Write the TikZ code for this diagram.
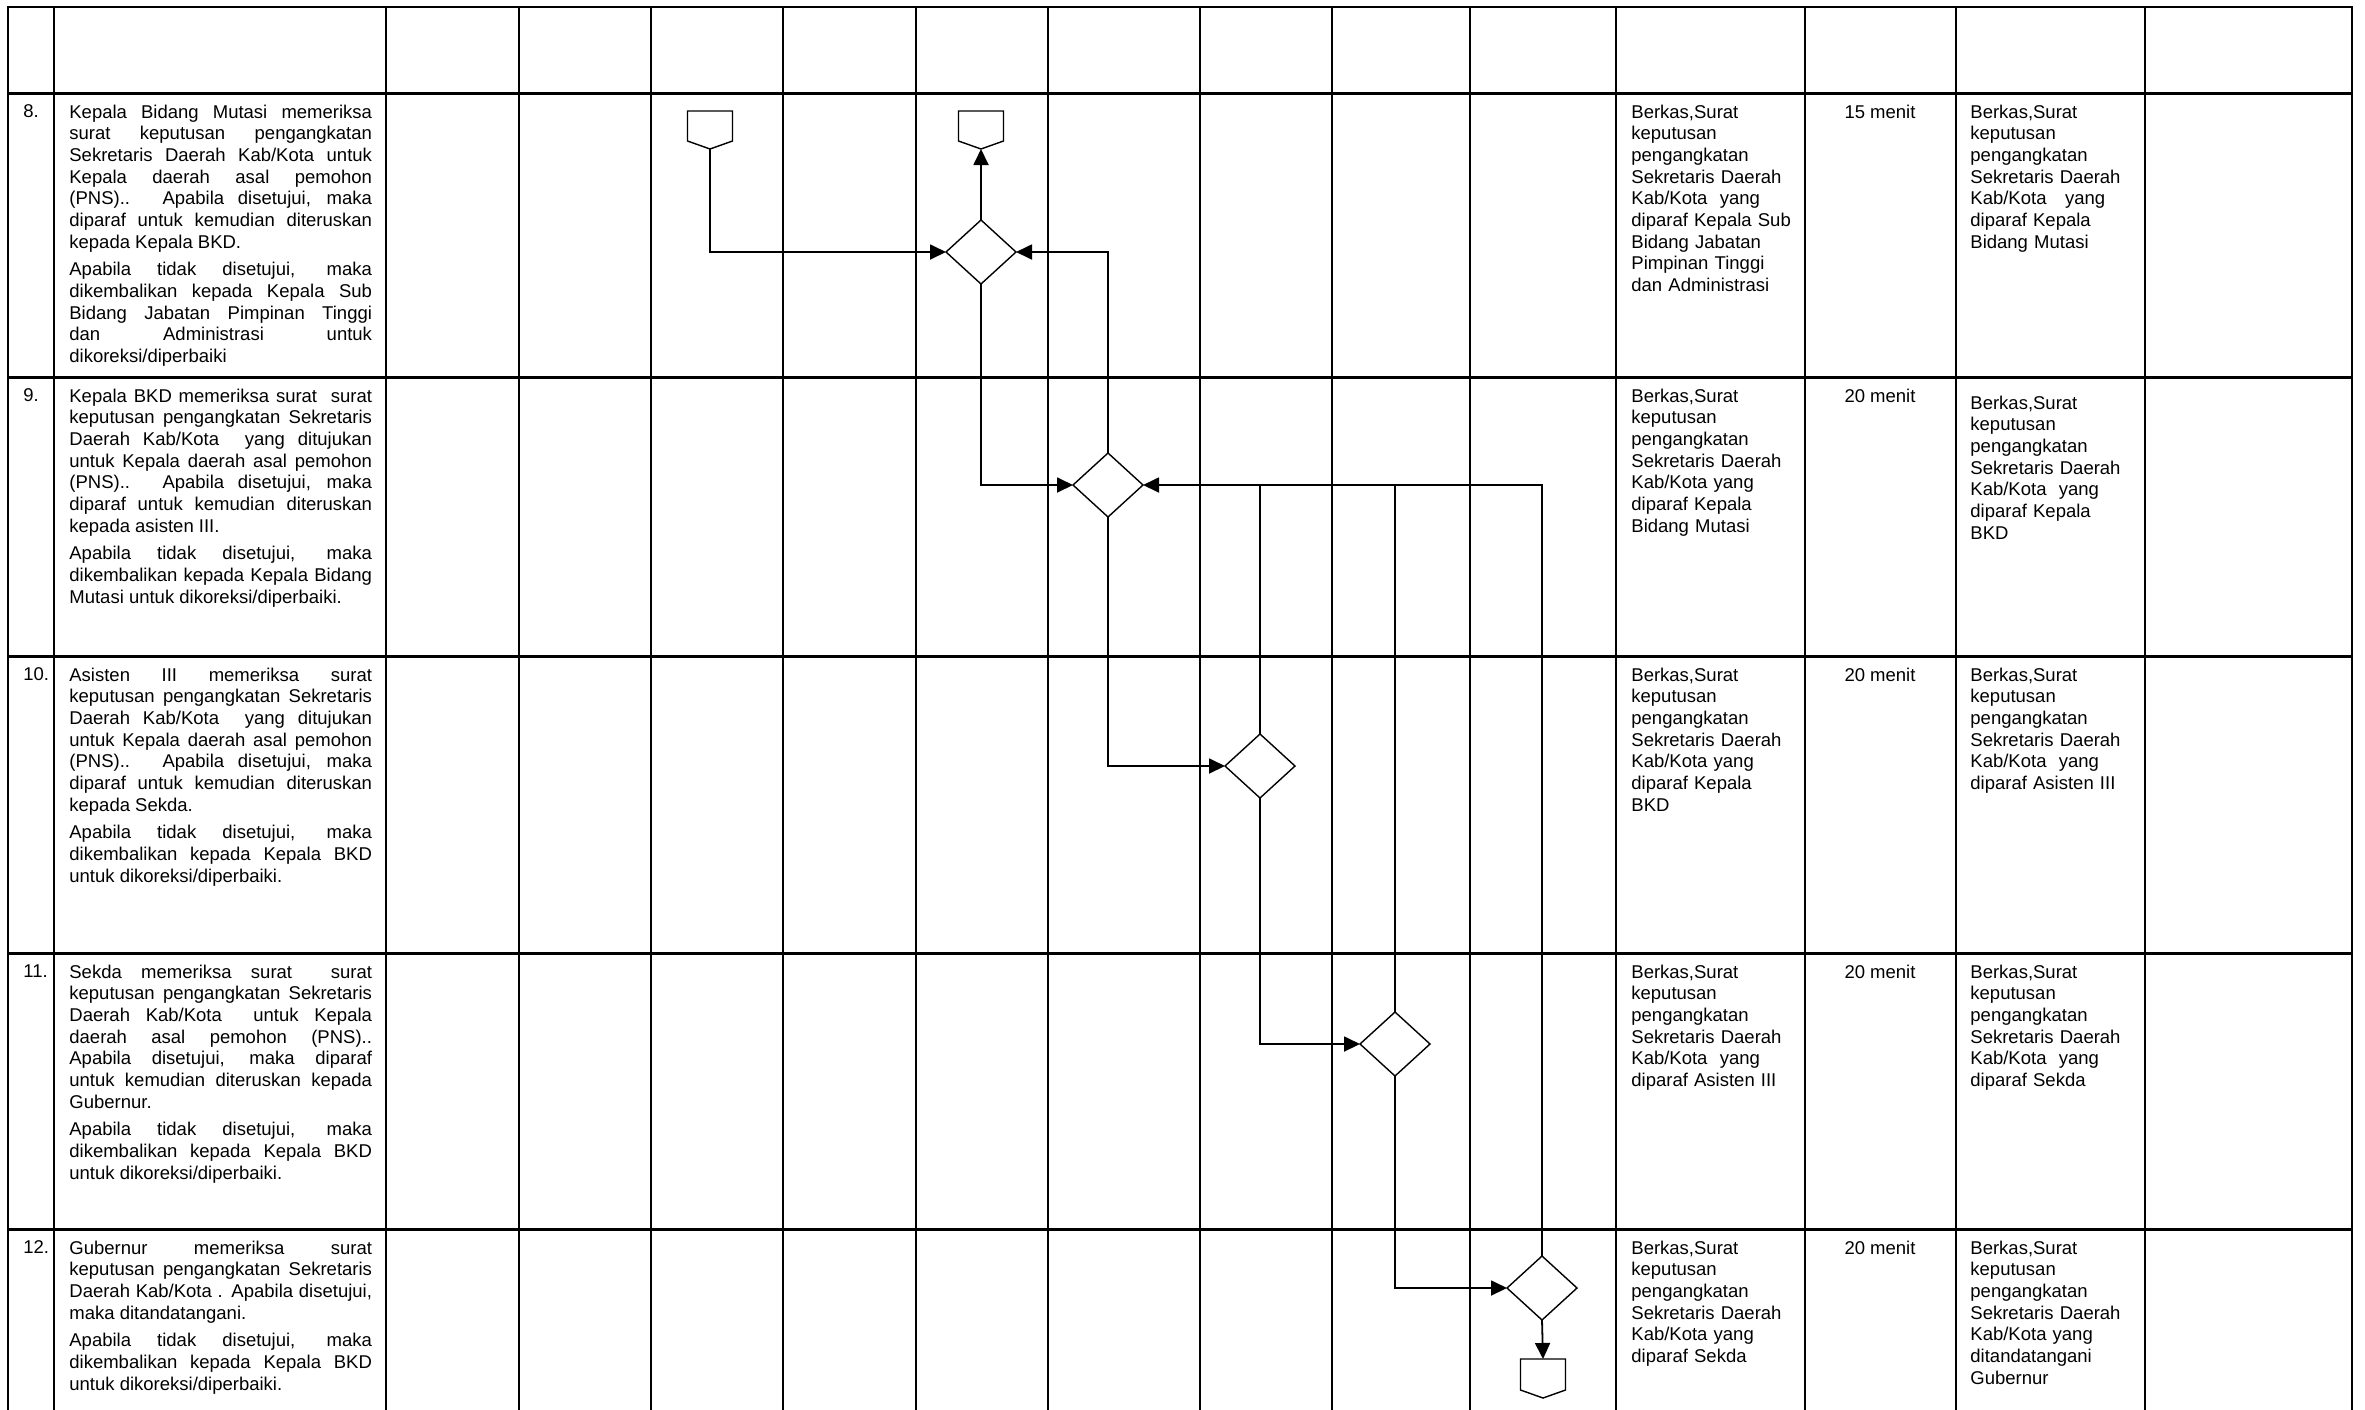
\documentclass[tikz,border=0pt]{standalone}
\usepackage{fontspec}
\setmainfont{Liberation Sans}
\usetikzlibrary{shapes.geometric,arrows.meta}
\tolerance=10000 \hbadness=10000 \hyphenpenalty=10000 \exhyphenpenalty=10000
\newcommand{\fs}{\fontsize{9.25}{10.83}\selectfont\parindent=0pt\relax}
\newcommand{\lb}{\linebreak}
\newcommand{\psep}{\par\vspace{3pt}}
\newcommand{\offpagedraw}[1]{\draw[shapeline,fill=white] (#1.north west) -- (#1.north east) -- ([yshift=4pt]#1.south east) -- (#1.south) -- ([yshift=4pt]#1.south west) -- cycle;}
\begin{document}
\begin{tikzpicture}[x=0.5pt,y=-0.5pt,
  grid/.style={line width=1.15pt,line cap=rect},
  conn/.style={line width=0.9pt},
  ret/.style={line width=0.6pt},
  tip/.style={-{Triangle[length=8pt,width=7.5pt]}},
  shapeline/.style={line width=0.7pt},
  dec/.style={diamond,draw,line width=0.7pt,fill=white,minimum width=35pt,minimum height=32pt,inner sep=0pt,outer sep=0pt},
  offpage/.style={minimum width=22.5pt,minimum height=19pt,inner sep=0pt,outer sep=0pt},
  num/.style={anchor=north west,inner sep=0pt,font=\fs},
  desc/.style={anchor=north west,inner sep=0pt,text width=151.3pt,align=justify,font=\fs},
  cell/.style={anchor=north west,inner sep=0pt,text width=86pt,align=left,font=\fs},
  dur/.style={anchor=north,inner sep=0pt,font=\fs}]
\useasboundingbox (0,0) rectangle (2365,1409);
\fill[white] (0,0) rectangle (2365,1409);
% table grid
\foreach \x in {8,54,386,519,651,783,916,1048,1200,1332,1470,1616,1805,1956,2145,2352}
  \draw[grid] (\x,7) -- (\x,1409);
\foreach \y in {7,93.5,377.5,656.5,953.5,1229.5}
  \draw[grid] (8,\y) -- (2352,\y);

% row 8
\node[num] (n8) at (23,104.5) {8.};
\node[desc] (t8) at (69,104.5) {Kepala Bidang Mutasi memeriksa\lb
surat keputusan pengangkatan\lb
Sekretaris Daerah Kab/Kota untuk\lb
Kepala daerah asal pemohon\lb
(PNS).. Apabila disetujui, maka\lb
diparaf untuk kemudian diteruskan\lb
kepada Kepala BKD.\psep
Apabila tidak disetujui, maka\lb
dikembalikan kepada Kepala Sub\lb
Bidang Jabatan Pimpinan Tinggi\lb
dan Administrasi untuk\lb
dikoreksi/diperbaiki};
\node[cell] (a8) at (1631,104.5) {Berkas,Surat\\keputusan\\pengangkatan\\Sekretaris Daerah\\Kab/Kota\ \ yang\\diparaf Kepala Sub\\Bidang Jabatan\\Pimpinan Tinggi\\dan Administrasi};
\node[dur] (b8) at (1880,104.5) {15 menit};
\node[cell] (c8) at (1970,104.5) {Berkas,Surat\\keputusan\\pengangkatan\\Sekretaris Daerah\\Kab/Kota\ \ \ yang\\diparaf Kepala\\Bidang Mutasi};

% row 9
\node[num] (n9) at (23,388.5) {9.};
\node[desc] (t9) at (69,388.5) {Kepala BKD memeriksa surat\ \ surat\lb
keputusan pengangkatan Sekretaris\lb
Daerah Kab/Kota\ \ yang ditujukan\lb
untuk Kepala daerah asal pemohon\lb
(PNS).. Apabila disetujui, maka\lb
diparaf untuk kemudian diteruskan\lb
kepada asisten III.\psep
Apabila tidak disetujui, maka\lb
dikembalikan kepada Kepala Bidang\lb
Mutasi untuk dikoreksi/diperbaiki.};
\node[cell] (a9) at (1631,388.5) {Berkas,Surat\\keputusan\\pengangkatan\\Sekretaris Daerah\\Kab/Kota yang\\diparaf Kepala\\Bidang Mutasi};
\node[dur] (b9) at (1880,388.5) {20 menit};
\node[cell] (c9) at (1970,395.5) {Berkas,Surat\\keputusan\\pengangkatan\\Sekretaris Daerah\\Kab/Kota\ \ yang\\diparaf Kepala\\BKD};

% row 10
\node[num] (n10) at (23,667.5) {10.};
\node[desc] (t10) at (69,667.5) {Asisten III memeriksa surat\lb
keputusan pengangkatan Sekretaris\lb
Daerah Kab/Kota\ \ yang ditujukan\lb
untuk Kepala daerah asal pemohon\lb
(PNS).. Apabila disetujui, maka\lb
diparaf untuk kemudian diteruskan\lb
kepada Sekda.\psep
Apabila tidak disetujui, maka\lb
dikembalikan kepada Kepala BKD\lb
untuk dikoreksi/diperbaiki.};
\node[cell] (a10) at (1631,667.5) {Berkas,Surat\\keputusan\\pengangkatan\\Sekretaris Daerah\\Kab/Kota yang\\diparaf Kepala\\BKD};
\node[dur] (b10) at (1880,667.5) {20 menit};
\node[cell] (c10) at (1970,667.5) {Berkas,Surat\\keputusan\\pengangkatan\\Sekretaris Daerah\\Kab/Kota\ \ yang\\diparaf Asisten III};

% row 11
\node[num] (n11) at (23,964.5) {11.};
\node[desc] (t11) at (69,964.5) {Sekda memeriksa surat\ \ surat\lb
keputusan pengangkatan Sekretaris\lb
Daerah Kab/Kota\ \ untuk Kepala\lb
daerah asal pemohon (PNS)..\lb
Apabila disetujui, maka diparaf\lb
untuk kemudian diteruskan kepada\lb
Gubernur.\psep
Apabila tidak disetujui, maka\lb
dikembalikan kepada Kepala BKD\lb
untuk dikoreksi/diperbaiki.};
\node[cell] (a11) at (1631,964.5) {Berkas,Surat\\keputusan\\pengangkatan\\Sekretaris Daerah\\Kab/Kota\ \ yang\\diparaf Asisten III};
\node[dur] (b11) at (1880,964.5) {20 menit};
\node[cell] (c11) at (1970,964.5) {Berkas,Surat\\keputusan\\pengangkatan\\Sekretaris Daerah\\Kab/Kota\ \ yang\\diparaf Sekda};

% row 12
\node[num] (n12) at (23,1240.5) {12.};
\node[desc] (t12) at (69,1240.5) {Gubernur memeriksa surat\lb
keputusan pengangkatan Sekretaris\lb
Daerah Kab/Kota . Apabila disetujui,\lb
maka ditandatangani.\psep
Apabila tidak disetujui, maka\lb
dikembalikan kepada Kepala BKD\lb
untuk dikoreksi/diperbaiki.};
\node[cell] (a12) at (1631,1240.5) {Berkas,Surat\\keputusan\\pengangkatan\\Sekretaris Daerah\\Kab/Kota yang\\diparaf Sekda};
\node[dur] (b12) at (1880,1240.5) {20 menit};
\node[cell] (c12) at (1970,1240.5) {Berkas,Surat\\keputusan\\pengangkatan\\Sekretaris Daerah\\Kab/Kota yang\\ditandatangani\\Gubernur};

% flow shapes
\node[offpage] (p1) at (710,130) {};
\node[offpage] (p2) at (981,130) {};
\node[offpage,minimum height=19.5pt] (p3) at (1543,1378.5) {};
\node[dec] (d1) at (981,252) {};
\node[dec] (d2) at (1108,485) {};
\node[dec] (d3) at (1260,766) {};
\node[dec] (d4) at (1395,1044) {};
\node[dec] (d5) at (1542,1288) {};

% connectors
\draw[conn,tip] (p1.south) |- (d1.west);
\draw[conn,tip] (d1.north) -- (p2.south);
\draw[conn,tip] (d2.north) |- (d1.east);
\draw[conn,tip] (d1.south) |- (d2.west);
\draw[conn,tip] (d2.south) |- (d3.west);
\draw[conn,tip] (d3.south) |- (d4.west);
\draw[conn,tip] (d4.south) |- (d5.west);
\draw[conn,tip] (d5.south) -- (p3.north);
\coordinate (j) at (d3.north |- d2.east);
\draw[ret] (d3.north) -- (j);
\draw[ret] (d4.north) |- (j);
\draw[ret] (d5.north) |- (j);
\draw[conn,tip] (j) -- (d2.east);

\offpagedraw{p1}
\offpagedraw{p2}
\offpagedraw{p3}
\end{tikzpicture}
\end{document}
